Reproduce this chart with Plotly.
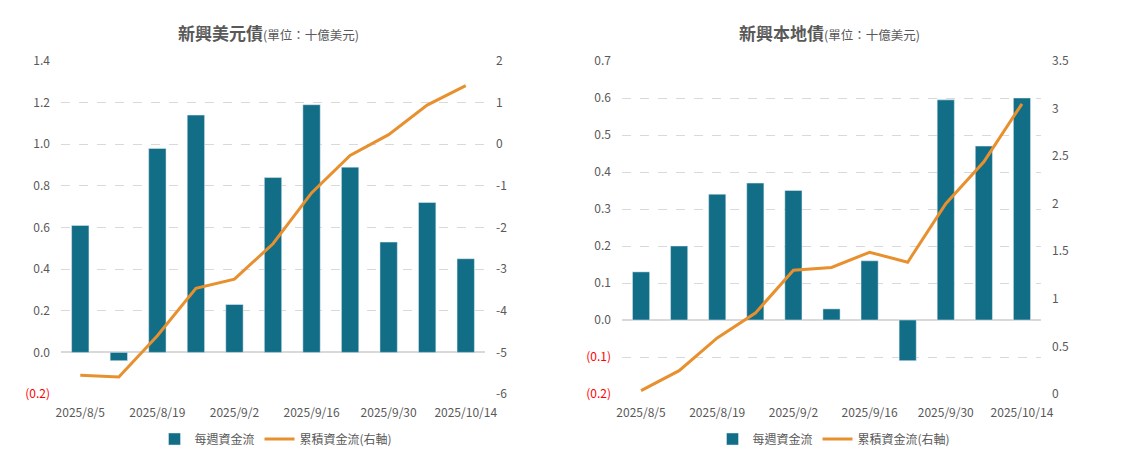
import plotly.graph_objects as go

dates = ["2025/8/5", "2025/8/12", "2025/8/19", "2025/8/26", "2025/9/2", "2025/9/9",
         "2025/9/16", "2025/9/23", "2025/9/30", "2025/10/7", "2025/10/14"]
tick_dates = ["2025/8/5", "2025/8/19", "2025/9/2", "2025/9/16", "2025/9/30", "2025/10/14"]

usd_weekly = [0.61, -0.04, 0.98, 1.14, 0.23, 0.84, 1.19, 0.89, 0.53, 0.72, 0.45]
usd_cum = [-5.55, -5.59, -4.60, -3.46, -3.24, -2.39, -1.17, -0.27, 0.23, 0.94, 1.41]

local_weekly = [0.13, 0.20, 0.34, 0.37, 0.35, 0.03, 0.16, -0.11, 0.595, 0.47, 0.60]
local_cum = [0.035, 0.245, 0.59, 0.85, 1.30, 1.33, 1.49, 1.385, 2.0, 2.44, 3.05]

left_vals = [-0.2, 0.0, 0.2, 0.4, 0.6, 0.8, 1.0, 1.2, 1.4]
left_text = ["<span style='color:#FF0000'>(0.2)</span>", "0.0", "0.2", "0.4", "0.6", "0.8", "1.0", "1.2", "1.4"]
right_vals = [-6, -5, -4, -3, -2, -1, 0, 1, 2]
right_text = ["-6", "-5", "-4", "-3", "-2", "-1", "0", "1", "2"]

left2_vals = [-0.2, -0.1, 0.0, 0.1, 0.2, 0.3, 0.4, 0.5, 0.6, 0.7]
left2_text = ["<span style='color:#FF0000'>(0.2)</span>", "<span style='color:#FF0000'>(0.1)</span>",
              "0.0", "0.1", "0.2", "0.3", "0.4", "0.5", "0.6", "0.7"]
right2_vals = [0, 0.5, 1, 1.5, 2, 2.5, 3, 3.5]
right2_text = ["0", "0.5", "1", "1.5", "2", "2.5", "3", "3.5"]

BAR = "#116E86"
LINE = "#E8902E"
GRAY = "#595959"
GRID = "#D9D9D9"
FONT = "Noto Sans CJK TC"

fig = go.Figure()
fig.add_trace(go.Bar(x=dates, y=usd_weekly, name="每週資金流", marker_color=BAR, width=0.45,
                     xaxis="x", yaxis="y", legend="legend"))
fig.add_trace(go.Scatter(x=dates, y=usd_cum, name="累積資金流(右軸)", mode="lines",
                         line=dict(color=LINE, width=3), xaxis="x", yaxis="y2", legend="legend"))
fig.add_trace(go.Bar(x=dates, y=local_weekly, name="每週資金流", marker_color=BAR, width=0.45,
                     xaxis="x2", yaxis="y3", legend="legend2"))
fig.add_trace(go.Scatter(x=dates, y=local_cum, name="累積資金流(右軸)", mode="lines",
                         line=dict(color=LINE, width=3), xaxis="x2", yaxis="y4", legend="legend2"))

W, H = 1148, 458
OX, OY = 8, 8  # page body margin offset


def px(x):
    return (x - OX) / W


def py(y):
    return (H - (y - OY)) / H


yd = [py(394), py(61)]
xd1 = [px(61), px(485)]
xd2 = [px(622), px(1041)]

tickfont = dict(family=FONT, size=12, color=GRAY)
xcommon = dict(type="category", tickmode="array", tickvals=tick_dates, ticktext=tick_dates,
               tickfont=tickfont, showgrid=False, showline=False, ticks="", ticklabelstandoff=10,
               fixedrange=True, automargin=False)

fig.update_layout(
    width=W, height=H,
    margin=dict(l=0, r=0, t=0, b=0),
    paper_bgcolor="white", plot_bgcolor="white",
    font=dict(family=FONT, color=GRAY),
    bargap=0.5,
    xaxis=dict(domain=xd1, anchor="y", **xcommon),
    xaxis2=dict(domain=xd2, anchor="y3", **xcommon),
    yaxis=dict(domain=yd, anchor="x", range=[-0.2, 1.4], tickmode="array", tickvals=left_vals,
               ticktext=left_text, tickfont=tickfont, showgrid=True, gridcolor=GRID, griddash="dash",
               zeroline=True, zerolinecolor=GRID, zerolinewidth=1.5, ticklabelstandoff=10,
               automargin=False, fixedrange=True),
    yaxis2=dict(overlaying="y", side="right", anchor="x", range=[-6, 2], tickmode="array",
                tickvals=right_vals, ticktext=right_text, tickfont=tickfont, showgrid=False,
                zeroline=False, ticklabelstandoff=10, automargin=False, fixedrange=True),
    yaxis3=dict(domain=yd, anchor="x2", range=[-0.2, 0.7], tickmode="array", tickvals=left2_vals,
                ticktext=left2_text, tickfont=tickfont, showgrid=True, gridcolor=GRID, griddash="dash",
                zeroline=True, zerolinecolor=GRID, zerolinewidth=1.5, ticklabelstandoff=10,
                automargin=False, fixedrange=True),
    yaxis4=dict(overlaying="y3", side="right", anchor="x2", range=[0, 3.5], tickmode="array",
                tickvals=right2_vals, ticktext=right2_text, tickfont=tickfont, showgrid=False,
                zeroline=False, ticklabelstandoff=10, automargin=False, fixedrange=True),
    legend=dict(orientation="h", x=px(276), xanchor="center", y=py(439), yanchor="middle",
                font=dict(family=FONT, size=12, color=GRAY), bgcolor="rgba(0,0,0,0)"),
    legend2=dict(orientation="h", x=px(834), xanchor="center", y=py(439), yanchor="middle",
                 font=dict(family=FONT, size=12, color=GRAY), bgcolor="rgba(0,0,0,0)"),
    annotations=[
        dict(text="<b>新興美元債</b><span style='font-size:12.5px'>(單位：十億美元)</span>",
             x=px(268), y=py(32), xref="paper", yref="paper", showarrow=False,
             xanchor="center", yanchor="middle", font=dict(family=FONT, size=17, color=GRAY)),
        dict(text="<b>新興本地債</b><span style='font-size:12.5px'>(單位：十億美元)</span>",
             x=px(829), y=py(32), xref="paper", yref="paper", showarrow=False,
             xanchor="center", yanchor="middle", font=dict(family=FONT, size=17, color=GRAY)),
    ],
)

fig.write_html("out.html")
